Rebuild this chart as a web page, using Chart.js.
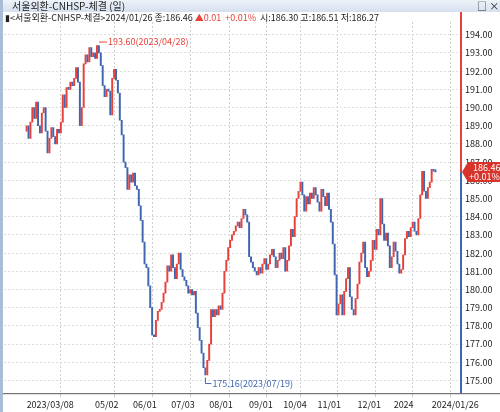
<!DOCTYPE html><html><head><meta charset="utf-8"><script src="https://cdn.jsdelivr.net/npm/chart.js@4"></script>
<style>html,body{margin:0;padding:0;background:#fff}#w{width:500px;height:412px}</style></head><body><div id="w"><canvas id="c"></canvas></div>
<script>
const closes=[189.0,188.3,189.2,190.0,189.4,190.3,189.0,188.6,189.7,190.0,188.7,187.5,188.3,188.9,188.4,188.0,188.8,188.6,189.2,190.7,190.0,191.1,191.0,191.4,191.2,191.6,192.2,191.4,189.0,190.0,192.4,192.9,192.5,193.3,192.8,193.0,192.7,193.4,193.0,192.3,191.2,190.6,191.0,190.9,189.6,191.6,192.1,191.5,190.8,189.3,188.5,187.0,186.7,185.5,186.3,185.9,186.4,185.7,185.5,184.6,183.8,182.6,181.4,181.2,180.2,179.0,177.5,177.4,178.3,178.8,178.9,179.3,179.8,180.4,181.3,181.0,181.9,181.2,180.6,181.4,182.0,181.1,180.7,180.5,180.2,179.8,180.0,179.7,179.9,178.7,177.9,177.2,176.5,175.7,175.3,176.1,177.0,178.9,178.5,178.9,178.6,179.1,178.9,179.8,181.0,181.6,182.3,182.7,183.0,183.2,183.5,183.7,183.4,183.9,184.4,184.1,183.7,181.8,181.5,181.2,181.0,180.8,181.2,180.9,181.4,181.7,181.1,181.4,181.9,182.2,181.8,181.2,181.6,182.0,181.7,182.3,181.0,181.6,182.4,183.3,182.9,184.0,185.0,185.4,185.9,185.2,184.3,185.1,184.7,185.3,185.0,185.6,185.2,184.8,184.3,185.5,185.1,184.6,185.3,184.4,183.7,182.5,180.8,178.6,179.2,179.7,178.6,179.9,180.6,181.2,179.6,178.9,178.6,179.5,180.3,181.5,182.0,182.6,181.2,180.7,181.0,181.6,182.7,182.2,183.3,183.0,185.0,183.6,182.7,183.1,182.4,181.2,181.8,182.6,182.1,181.4,180.9,181.1,181.9,182.8,183.2,182.9,183.4,183.7,183.2,183.0,183.9,185.2,186.5,185.4,185.0,185.6,185.9,186.6,186.5,186.46];
const firstOpen=188.7;
const tickLabels=['2023/03/08','05/02','06/01','07/03','08/01','09/01','10/04','11/01','12/01','2024','2024/01/26'];
const tickPos=[0,36,56,76,96,117,135,153,174,193,213];
const maxInfo={idx:37,val:193.60,text:'193.60(2023/04/28)'};
const minInfo={idx:94,val:175.16,text:'175.16(2023/07/19)'};
const last={price:186.46,chg:'+0.01%'};
const RED='#e8413a',BLUE='#3f67b0';
const bars=closes.map((c,i)=>{const o=i?closes[i-1]:firstOpen;return {x:i,y:[o,c]};});
const colors=bars.map(b=>b.y[1]>=b.y[0]?RED:BLUE);
const deco={id:'deco',
 beforeDraw(ch){const g=ch.ctx;g.save();
  const gr=g.createLinearGradient(0,0,0,12);gr.addColorStop(0,'#eef3f9');gr.addColorStop(1,'#d5e0ee');
  g.fillStyle=gr;g.fillRect(0,0,500,12);g.fillStyle='#a9bdd6';g.fillRect(0,0,3,412);
  g.font='10px "Noto Sans CJK KR"';g.fillStyle='#222';g.textBaseline='middle';
  g.fillText('서울외환-CNHSP-체결 (일)',12,6);g.fillText('□ ×',477,6);
  g.restore();},
 afterDraw(ch){const g=ch.ctx,x=ch.scales.x,y=ch.scales.y,a=ch.chartArea;g.save();
  g.font='9px "Noto Sans CJK KR"';g.textBaseline='middle';
  let px=5;const parts=[['▮<서울외환-CNHSP-체결>2024/01/26 종:186.46 ','#222'],['▲0.01  +0.01%','#e8413a'],['  시:186.30 고:186.51 저:186.27','#222']];
  for(const [t,c] of parts){g.fillStyle=c;g.fillText(t,px,18);px+=g.measureText(t).width;}
  const yl=y.getPixelForValue(last.price);
  g.lineWidth=2;g.strokeStyle=RED;g.beginPath();g.moveTo(a.right+1,a.top-10);g.lineTo(a.right+1,yl);g.stroke();
  g.strokeStyle=BLUE;g.beginPath();g.moveTo(a.right+1,yl);g.lineTo(a.right+1,a.bottom);g.stroke();
  g.lineWidth=1;g.strokeStyle='#555';g.beginPath();g.moveTo(3,a.bottom+0.5);g.lineTo(500,a.bottom+0.5);g.stroke();
  g.fillStyle='#d9342b';g.beginPath();g.moveTo(a.right+2,yl);g.lineTo(a.right+8,yl-10);g.lineTo(500,yl-10);g.lineTo(500,yl+10);g.lineTo(a.right+8,yl+10);g.closePath();g.fill();
  g.fillStyle='#fff';g.font='9px "Noto Sans CJK KR"';g.fillText(last.price.toFixed(2),a.right+13,yl-4);g.fillText(last.chg,a.right+9,yl+5);
  let mx=x.getPixelForValue(maxInfo.idx)+2,my=y.getPixelForValue(maxInfo.val);
  g.strokeStyle=RED;g.beginPath();g.moveTo(mx,my);g.lineTo(mx+8,my);g.stroke();
  g.fillStyle=RED;g.fillText(maxInfo.text,mx+9,my);
  let nx=x.getPixelForValue(minInfo.idx),ny=y.getPixelForValue(minInfo.val);
  g.strokeStyle=BLUE;g.beginPath();g.moveTo(nx,ny);g.lineTo(nx,ny+6);g.lineTo(nx+6,ny+6);g.stroke();
  g.fillStyle=BLUE;g.fillText(minInfo.text,nx+7,ny+6);
  g.restore();}};
new Chart(document.getElementById('c'),{type:'bar',
 data:{datasets:[{data:bars,backgroundColor:colors,barThickness:1.3,borderSkipped:false,minBarLength:2}]},
 options:{responsive:true,maintainAspectRatio:false,animation:false,
  layout:{padding:{top:22,left:4,right:0,bottom:0}},
  plugins:{legend:{display:false},tooltip:{enabled:false}},
  scales:{
   x:{type:'linear',min:-1,max:closes.length+1,
    afterBuildTicks(s){s.ticks=tickPos.map(v=>({value:v}));},
    afterFit(s){s.paddingLeft=0;s.paddingRight=0;},
    ticks:{autoSkip:false,maxRotation:0,align:'start',padding:2,color:'#222',font:{family:'"Noto Sans CJK KR"',size:9},
     callback(v){const i=tickPos.indexOf(v);return i>=0?tickLabels[i]:'';}},
    grid:{color:'#cfcfcf',tickLength:4,drawTicks:true},border:{display:false,dash:[2,2]}},
   y:{position:'right',min:174.3,max:194.7,
    afterBuildTicks(s){const t=[];for(let v=175;v<=194;v++)t.push({value:v});s.ticks=t;},
    ticks:{color:'#222',padding:2,font:{family:'"Noto Sans CJK KR"',size:9},callback:v=>v.toFixed(2)},
    grid:{color:'#dcdcdc',tickLength:3},border:{display:false,dash:[2,2]},afterFit(s){s.width=40;}}
  }},plugins:[deco]});
</script></body></html>
